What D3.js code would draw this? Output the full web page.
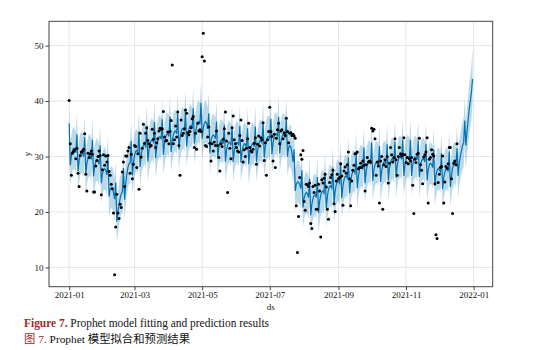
<!DOCTYPE html>
<html>
<head>
<meta charset="utf-8">
<script src="https://cdn.jsdelivr.net/npm/d3@7"></script>
<style>
  body { margin: 0; background: #fff; }
  svg { display: block; }
</style>
</head>
<body>
<svg id="chart" width="548" height="350"></svg>
<script>
// Prophet fit: one value per day from 2021-01-01, one row per week
const startDate = "2021-01-01";

const yhat = [
  36.0, 28.4, 30.2, 31.1, 31.5, 31.3, 30.7,
  34.0, 27.4, 29.3, 30.3, 30.7, 30.6, 30.0,
  33.5, 26.9, 28.8, 29.7, 30.2, 30.1, 29.5,
  33.0, 26.4, 28.3, 29.1, 29.4, 29.2, 28.6,
  32.0, 25.2, 26.9, 27.6, 27.8, 27.5, 26.7,
  30.0, 22.8, 24.1, 24.4, 24.2, 23.5, 22.3,
  25.3, 18.3, 20.0, 21.3, 22.5, 23.3, 23.6,
  27.9, 22.2, 25.0, 26.8, 28.0, 28.7, 28.8,
  32.8, 26.6, 28.9, 30.2, 30.9, 31.1, 30.8,
  34.5, 28.1, 30.3, 31.4, 32.0, 32.2, 31.8,
  35.5, 29.1, 31.2, 32.3, 32.9, 33.0, 32.6,
  36.2, 29.7, 31.8, 32.9, 33.5, 33.6, 33.1,
  36.7, 30.3, 32.3, 33.4, 34.0, 34.1, 33.6,
  37.2, 30.8, 32.8, 33.9, 34.5, 34.6, 34.1,
  37.7, 31.3, 33.3, 34.4, 35.0, 35.1, 34.6,
  38.2, 31.8, 33.8, 34.9, 35.5, 35.6, 35.1,
  38.7, 32.3, 34.3, 35.4, 36.1, 36.3, 35.8,
  39.7, 33.2, 35.1, 36.0, 36.3, 36.0, 35.0,
  37.8, 30.6, 32.8, 33.6, 33.9, 33.7, 33.2,
  36.3, 29.7, 31.6, 32.5, 32.9, 32.8, 32.3,
  35.7, 29.1, 31.1, 32.1, 32.6, 32.5, 32.0,
  35.5, 29.0, 31.0, 32.0, 32.5, 32.5, 32.0,
  35.5, 28.9, 30.9, 31.8, 32.3, 32.2, 31.7,
  35.1, 28.6, 30.6, 31.7, 32.2, 32.3, 31.8,
  35.4, 29.0, 31.0, 32.2, 32.8, 32.9, 32.5,
  36.2, 29.8, 31.8, 32.9, 33.5, 33.6, 33.2,
  36.8, 30.4, 32.4, 33.5, 34.1, 34.1, 33.6,
  37.1, 30.6, 32.6, 33.5, 34.0, 33.9, 33.4,
  36.7, 30.0, 31.6, 32.0, 31.7, 30.7, 29.0,
  31.3, 23.8, 25.0, 25.4, 25.4, 25.0, 24.2,
  27.5, 20.8, 22.5, 23.2, 23.5, 23.3, 22.6,
  26.0, 19.4, 21.4, 22.4, 23.0, 23.1, 22.6,
  26.3, 19.8, 21.9, 23.0, 23.6, 23.8, 23.4,
  27.1, 20.7, 22.8, 24.0, 24.6, 24.7, 24.3,
  28.0, 21.6, 23.7, 24.9, 25.5, 25.6, 25.2,
  28.9, 22.5, 24.6, 25.8, 26.4, 26.5, 26.1,
  29.8, 23.4, 25.5, 26.7, 27.3, 27.4, 27.0,
  30.7, 24.3, 26.4, 27.6, 28.2, 28.3, 27.9,
  31.6, 25.2, 27.3, 28.4, 29.0, 29.1, 28.6,
  32.5, 25.6, 27.6, 28.5, 28.9, 28.9, 28.4,
  31.9, 25.4, 27.4, 28.5, 29.0, 29.1, 28.6,
  32.2, 25.7, 27.8, 28.9, 29.5, 29.6, 29.1,
  32.7, 26.2, 28.3, 29.4, 29.9, 30.0, 29.5,
  33.0, 26.5, 28.5, 29.5, 30.0, 30.0, 29.5,
  33.0, 26.5, 28.5, 29.5, 29.9, 29.9, 29.4,
  32.9, 26.3, 28.3, 29.2, 29.6, 29.5, 29.0,
  32.3, 25.7, 27.6, 28.5, 28.8, 28.6, 28.0,
  31.3, 24.7, 26.6, 27.5, 27.8, 27.6, 27.2,
  30.6, 24.1, 26.2, 27.2, 27.7, 27.8, 27.3,
  30.9, 24.5, 26.6, 27.9, 28.6, 28.9, 28.5,
  31.5, 26.5, 28.8, 30.0, 31.0, 32.0, 32.5,
  36.5, 32.0, 34.5, 36.5, 38.5, 40.0, 41.5,
  44.0
];

const yhatLower = [
  32.2, 24.8, 26.3, 27.4, 27.7, 27.7, 26.8,
  30.2, 23.8, 25.4, 26.6, 26.9, 27.0, 26.1,
  29.7, 23.3, 24.9, 26.0, 26.4, 26.5, 25.6,
  29.2, 22.8, 24.4, 25.4, 25.6, 25.6, 24.7,
  28.2, 21.6, 23.0, 23.9, 24.0, 23.9, 22.8,
  26.2, 19.2, 20.2, 20.7, 20.4, 19.9, 18.4,
  21.5, 14.7, 16.1, 17.6, 18.7, 19.7, 19.7,
  24.1, 18.6, 21.1, 23.1, 24.2, 25.1, 24.9,
  29.0, 23.0, 25.0, 26.5, 27.1, 27.5, 26.9,
  30.7, 24.5, 26.4, 27.7, 28.2, 28.6, 27.9,
  31.7, 25.5, 27.3, 28.6, 29.1, 29.4, 28.7,
  32.4, 26.1, 27.9, 29.2, 29.7, 30.0, 29.2,
  32.9, 26.7, 28.4, 29.7, 30.2, 30.5, 29.7,
  33.4, 27.2, 28.9, 30.2, 30.7, 31.0, 30.2,
  33.9, 27.7, 29.4, 30.7, 31.2, 31.5, 30.7,
  34.4, 28.2, 29.9, 31.2, 31.7, 32.0, 31.2,
  34.9, 28.7, 30.4, 31.7, 32.3, 32.7, 31.9,
  35.9, 29.6, 31.2, 32.3, 32.5, 32.4, 31.1,
  34.0, 27.0, 28.9, 29.9, 30.1, 30.1, 29.3,
  32.5, 26.1, 27.7, 28.8, 29.1, 29.2, 28.4,
  31.9, 25.5, 27.2, 28.4, 28.8, 28.9, 28.1,
  31.7, 25.4, 27.1, 28.3, 28.7, 28.9, 28.1,
  31.7, 25.3, 27.0, 28.1, 28.5, 28.6, 27.8,
  31.3, 25.0, 26.7, 28.0, 28.4, 28.7, 27.9,
  31.6, 25.4, 27.1, 28.5, 29.0, 29.3, 28.6,
  32.4, 26.2, 27.9, 29.2, 29.7, 30.0, 29.3,
  33.0, 26.8, 28.5, 29.8, 30.3, 30.5, 29.7,
  33.3, 27.0, 28.7, 29.8, 30.2, 30.3, 29.5,
  32.9, 26.4, 27.7, 28.3, 27.9, 27.1, 25.1,
  27.5, 20.2, 21.1, 21.7, 21.6, 21.4, 20.3,
  23.7, 17.2, 18.6, 19.5, 19.7, 19.7, 18.7,
  22.2, 15.8, 17.5, 18.7, 19.2, 19.5, 18.7,
  22.5, 16.2, 18.0, 19.3, 19.8, 20.2, 19.5,
  23.3, 17.1, 18.9, 20.3, 20.8, 21.1, 20.4,
  24.2, 18.0, 19.8, 21.2, 21.7, 22.0, 21.3,
  25.1, 18.9, 20.7, 22.1, 22.6, 22.9, 22.2,
  26.0, 19.8, 21.6, 23.0, 23.5, 23.8, 23.1,
  26.9, 20.7, 22.5, 23.9, 24.4, 24.7, 24.0,
  27.8, 21.6, 23.4, 24.7, 25.2, 25.5, 24.7,
  28.7, 22.0, 23.7, 24.8, 25.1, 25.3, 24.5,
  28.1, 21.8, 23.5, 24.8, 25.2, 25.5, 24.7,
  28.4, 22.1, 23.9, 25.2, 25.7, 26.0, 25.2,
  28.9, 22.6, 24.4, 25.7, 26.1, 26.4, 25.6,
  29.2, 22.9, 24.6, 25.8, 26.2, 26.4, 25.6,
  29.2, 22.9, 24.6, 25.8, 26.1, 26.3, 25.5,
  29.1, 22.7, 24.4, 25.5, 25.8, 25.9, 25.1,
  28.5, 22.1, 23.7, 24.8, 25.0, 25.0, 24.1,
  27.5, 21.1, 22.7, 23.8, 24.0, 24.0, 23.3,
  26.8, 20.5, 22.3, 23.5, 23.9, 24.2, 23.4,
  27.1, 20.9, 22.7, 24.2, 24.8, 25.3, 24.6,
  27.6, 22.5, 24.7, 25.8, 26.7, 27.6, 28.0,
  32.3, 27.7, 30.1, 32.0, 33.8, 35.2, 36.6,
  39.6
];

const yhatUpper = [
  39.7, 32.3, 33.8, 34.9, 35.4, 35.0, 34.5,
  37.7, 31.3, 32.9, 34.1, 34.6, 34.3, 33.8,
  37.2, 30.8, 32.4, 33.5, 34.1, 33.8, 33.3,
  36.7, 30.3, 31.9, 32.9, 33.3, 32.9, 32.4,
  35.7, 29.1, 30.5, 31.4, 31.7, 31.2, 30.5,
  33.7, 26.7, 27.7, 28.2, 28.1, 27.2, 26.1,
  29.0, 22.2, 23.6, 25.1, 26.4, 27.0, 27.4,
  31.6, 26.1, 28.6, 30.6, 31.9, 32.4, 32.6,
  36.5, 30.5, 32.5, 34.0, 34.8, 34.8, 34.6,
  38.2, 32.0, 33.9, 35.2, 35.9, 35.9, 35.6,
  39.2, 33.0, 34.8, 36.1, 36.8, 36.7, 36.4,
  39.9, 33.6, 35.4, 36.7, 37.4, 37.3, 36.9,
  40.4, 34.2, 35.9, 37.2, 37.9, 37.8, 37.4,
  40.9, 34.7, 36.4, 37.7, 38.4, 38.3, 37.9,
  41.4, 35.2, 36.9, 38.2, 38.9, 38.8, 38.4,
  41.9, 35.7, 37.4, 38.7, 39.4, 39.3, 38.9,
  42.4, 36.2, 37.9, 39.2, 40.0, 40.0, 39.6,
  43.4, 37.1, 38.7, 39.8, 40.2, 39.7, 38.8,
  41.5, 34.5, 36.4, 37.4, 37.8, 37.4, 37.0,
  40.0, 33.6, 35.2, 36.3, 36.8, 36.5, 36.1,
  39.4, 33.0, 34.7, 35.9, 36.5, 36.2, 35.8,
  39.2, 32.9, 34.6, 35.8, 36.4, 36.2, 35.8,
  39.2, 32.8, 34.5, 35.6, 36.2, 35.9, 35.5,
  38.8, 32.5, 34.2, 35.5, 36.1, 36.0, 35.6,
  39.1, 32.9, 34.6, 36.0, 36.7, 36.6, 36.3,
  39.9, 33.7, 35.4, 36.7, 37.4, 37.3, 37.0,
  40.5, 34.3, 36.0, 37.3, 38.0, 37.8, 37.4,
  40.8, 34.5, 36.2, 37.3, 37.9, 37.6, 37.2,
  40.4, 33.9, 35.2, 35.8, 35.6, 34.4, 32.8,
  35.0, 27.7, 28.6, 29.2, 29.3, 28.7, 28.0,
  31.2, 24.7, 26.1, 27.0, 27.4, 27.0, 26.4,
  29.7, 23.3, 25.0, 26.2, 26.9, 26.8, 26.4,
  30.0, 23.7, 25.5, 26.8, 27.5, 27.5, 27.2,
  30.8, 24.6, 26.4, 27.8, 28.5, 28.4, 28.1,
  31.7, 25.5, 27.3, 28.7, 29.4, 29.3, 29.0,
  32.6, 26.4, 28.2, 29.6, 30.3, 30.2, 29.9,
  33.5, 27.3, 29.1, 30.5, 31.2, 31.1, 30.8,
  34.4, 28.2, 30.0, 31.4, 32.1, 32.0, 31.7,
  35.3, 29.1, 30.9, 32.2, 32.9, 32.8, 32.4,
  36.2, 29.5, 31.2, 32.3, 32.8, 32.6, 32.2,
  35.6, 29.3, 31.0, 32.3, 32.9, 32.8, 32.4,
  35.9, 29.6, 31.4, 32.7, 33.4, 33.3, 32.9,
  36.4, 30.1, 31.9, 33.2, 33.8, 33.7, 33.3,
  36.7, 30.4, 32.1, 33.3, 33.9, 33.7, 33.3,
  36.7, 30.4, 32.1, 33.3, 33.8, 33.6, 33.2,
  36.6, 30.2, 31.9, 33.0, 33.5, 33.2, 32.8,
  36.0, 29.6, 31.2, 32.3, 32.7, 32.3, 31.8,
  35.0, 28.6, 30.2, 31.3, 31.7, 31.3, 31.0,
  34.3, 28.0, 29.8, 31.0, 31.6, 31.5, 31.1,
  34.6, 28.4, 30.2, 31.7, 32.5, 32.6, 32.3,
  35.4, 30.6, 32.8, 34.2, 35.3, 36.4, 37.0,
  40.6, 36.2, 38.8, 40.9, 43.0, 44.7, 46.4,
  49.5
];

// observed y, daily from 2021-01-01 to 2021-12-17
const observed = [
  40.1, 32.3, 26.6, 30.6, 30.9, 31.2, 29.6,
  31.5, 27.0, 24.6, 30.2, 30.8, 31.0, 31.3,
  34.1, 26.8, 23.8, 30.6, 29.8, 30.5, 31.0,
  30.4, 23.6, 23.6, 28.3, 29.3, 30.0, 31.0,
  30.2, 23.1, 27.6, 30.3, 28.4, 30.1, 29.0,
  30.2, 27.3, 26.6, 25.0, 24.2, 19.8, 8.7,
  17.3, 23.2, 19.8, 18.8, 21.4, 20.8, 27.2,
  29.0, 24.6, 30.1, 30.1, 31.0, 31.6, 27.0,
  30.4, 26.0, 28.6, 32.0, 31.8, 28.0, 30.5,
  24.1, 34.2, 29.9, 31.5, 35.8, 32.4, 34.2,
  35.2, 32.9, 32.3, 31.8, 32.0, 34.9, 33.1,
  34.2, 31.6, 32.5, 33.2, 34.6, 35.1, 34.9,
  35.0, 38.1, 33.5, 32.8, 32.9, 34.4, 32.3,
  34.5, 36.5, 46.5, 32.3, 33.0, 35.5, 33.5,
  38.0, 32.0, 26.6, 36.6, 33.8, 34.2, 35.0,
  38.4, 37.8, 34.3, 33.9, 34.5, 35.2, 36.8,
  37.2, 31.6, 34.2, 31.3, 36.0, 34.6, 34.8,
  34.5, 48.0, 52.2, 47.2, 32.0, 31.8, 33.5,
  35.3, 32.4, 29.2, 32.3, 31.0, 32.6, 32.0,
  34.6, 32.0, 29.8, 27.4, 32.3, 31.8, 33.1,
  35.0, 38.0, 32.8, 23.5, 34.2, 31.5, 29.6,
  35.2, 37.3, 33.0, 32.3, 31.6, 31.0, 30.8,
  33.8, 36.6, 32.9, 29.0, 31.2, 30.0, 31.5,
  33.2, 36.0, 31.6, 31.0, 30.8, 31.3, 32.4,
  33.4, 28.6, 32.2, 33.7, 31.9, 33.4, 33.0,
  36.1, 29.3, 32.5, 26.6, 33.0, 34.5, 38.9,
  34.5, 33.6, 29.2, 34.0, 28.0, 33.3, 34.8,
  36.0, 32.3, 34.6, 34.8, 33.2, 34.3, 33.8,
  36.9, 34.5, 32.5, 34.2, 34.3, 33.8, 34.0,
  33.7, 33.3, 21.1, 12.7, 19.2, 26.2, 30.3,
  29.5, 31.1, 21.9, 20.3, 25.0, 24.9, 24.6,
  25.2, 17.9, 17.0, 24.6, 23.5, 24.8, 20.5,
  20.5, 25.0, 23.8, 15.5, 25.8, 25.2, 26.1,
  26.8, 24.5, 20.5, 18.7, 25.3, 26.2, 26.7,
  27.5, 21.5, 20.1, 25.6, 26.8, 26.0, 26.2,
  28.7, 26.5, 21.2, 27.4, 28.1, 27.0, 28.5,
  30.8, 26.0, 21.1, 25.6, 27.5, 28.4, 30.5,
  30.6, 30.8, 27.8, 28.0, 28.8, 28.0, 29.2,
  28.4, 23.8, 28.5, 29.8, 29.0, 29.2, 29.0,
  35.1, 34.6, 34.9, 33.2, 26.6, 29.0, 28.3,
  21.6, 29.2, 30.0, 20.5, 28.5, 29.4, 28.2,
  30.0, 25.2, 28.8, 31.6, 30.3, 29.0, 29.8,
  33.2, 29.4, 26.6, 30.0, 31.6, 30.5, 30.1,
  30.4, 33.4, 30.3, 28.9, 29.8, 28.7, 29.6,
  29.2, 29.8, 24.8, 19.7, 29.5, 28.9, 30.4,
  30.6, 33.3, 28.5, 27.5, 25.1, 29.9, 30.3,
  30.8, 33.4, 21.6, 29.5, 29.8, 31.2, 30.4,
  30.1, 25.1, 15.9, 15.2, 25.3, 26.8, 28.0,
  28.2, 30.1, 21.6, 25.4, 28.2, 27.9, 28.7,
  31.6, 31.6, 26.0, 19.7, 28.8, 29.2, 28.5,
  32.3
];

const width = 548, height = 350;
const plot = {left: 49, right: 492.7, top: 21.3, bottom: 286.7};
const blue = "#0072B2";
const serif = "'Liberation Serif', 'DejaVu Serif', serif";

const svg = d3.select("#chart");

const t0 = d3.utcParse("%Y-%m-%d")(startDate);
const dates = yhat.map((_, i) => d3.utcDay.offset(t0, i));

// matplotlib-style 5% margins
const pad = (dates[dates.length - 1] - dates[0]) * 0.05;
const x = d3.scaleUtc()
    .domain([new Date(+dates[0] - pad), new Date(+dates[dates.length - 1] + pad)])
    .range([plot.left, plot.right]);

const lo = Math.min(d3.min(observed), d3.min(yhatLower));
const hi = Math.max(d3.max(observed), d3.max(yhatUpper));
const y = d3.scaleLinear()
    .domain([lo - (hi - lo) * 0.05, hi + (hi - lo) * 0.05])
    .range([plot.bottom, plot.top]);

const xTicks = d3.utcMonth.every(2).range(x.domain()[0], x.domain()[1]);
const yTicks = [10, 20, 30, 40, 50];

// grid
svg.append("g").selectAll("line")
  .data(xTicks)
  .join("line")
    .attr("x1", d => x(d)).attr("x2", d => x(d))
    .attr("y1", plot.top).attr("y2", plot.bottom)
    .attr("stroke", "#e6e6e6").attr("stroke-width", 1);
svg.append("g").selectAll("line")
  .data(yTicks)
  .join("line")
    .attr("x1", plot.left).attr("x2", plot.right)
    .attr("y1", d => y(d)).attr("y2", d => y(d))
    .attr("stroke", "#e6e6e6").attr("stroke-width", 1);

// uncertainty band
const area = d3.area()
    .x((d, i) => x(dates[i]))
    .y0((d, i) => y(yhatLower[i]))
    .y1((d, i) => y(yhatUpper[i]));
svg.append("path")
    .datum(yhat)
    .attr("d", area)
    .attr("fill", blue)
    .attr("fill-opacity", 0.27);

// forecast line
const line = d3.line()
    .x((d, i) => x(dates[i]))
    .y(d => y(d));
svg.append("path")
    .datum(yhat)
    .attr("d", line)
    .attr("fill", "none")
    .attr("stroke", blue)
    .attr("stroke-width", 1.2);

// observed points
svg.append("g").selectAll("circle")
  .data(observed)
  .join("circle")
    .attr("cx", (d, i) => x(dates[i]))
    .attr("cy", d => y(d))
    .attr("r", 1.5)
    .attr("fill", "#000");

// frame
svg.append("rect")
    .attr("x", plot.left).attr("y", plot.top)
    .attr("width", plot.right - plot.left)
    .attr("height", plot.bottom - plot.top)
    .attr("fill", "none")
    .attr("stroke", "#444")
    .attr("stroke-width", 1);

// axes
const xAxis = svg.append("g")
    .attr("transform", `translate(0,${plot.bottom})`)
    .call(d3.axisBottom(x).tickValues(xTicks).tickFormat(d3.utcFormat("%Y-%m")).tickSize(3.5).tickPadding(1.5));
const yAxis = svg.append("g")
    .attr("transform", `translate(${plot.left},0)`)
    .call(d3.axisLeft(y).tickValues(yTicks).tickSize(3.5).tickPadding(2));

[xAxis, yAxis].forEach(g => {
  g.select(".domain").remove();
  g.selectAll(".tick line").attr("stroke", "#444");
  g.selectAll(".tick text")
    .attr("fill", "#111")
    .attr("font-family", serif)
    .attr("font-size", "9px");
});

svg.append("text")
    .attr("x", (plot.left + plot.right) / 2)
    .attr("y", 309.5)
    .attr("text-anchor", "middle")
    .attr("font-family", serif)
    .attr("font-size", "9px")
    .attr("fill", "#111")
    .text("ds");

svg.append("text")
    .attr("transform", `translate(30,${(plot.top + plot.bottom) / 2}) rotate(-90)`)
    .attr("text-anchor", "middle")
    .attr("font-family", serif)
    .attr("font-size", "9px")
    .attr("fill", "#111")
    .text("y");

// caption
const cap1 = svg.append("text")
    .attr("x", 24).attr("y", 327)
    .attr("font-family", serif)
    .attr("font-size", "12px");
cap1.append("tspan").attr("fill", "#9e2a2b").attr("font-weight", "bold").text("Figure 7.");
cap1.append("tspan").attr("fill", "#111").text(" Prophet model fitting and prediction results");

const cap2 = svg.append("text")
    .attr("x", 24).attr("y", 343)
    .attr("font-family", serif)
    .attr("font-size", "12px");
cap2.append("tspan").attr("fill", "#9e2a2b").attr("font-family", "'Noto Sans CJK SC', sans-serif").text("图");
cap2.append("tspan").attr("fill", "#9e2a2b").text(" 7. ");
cap2.append("tspan").attr("fill", "#111").text("Prophet ");
cap2.append("tspan").attr("fill", "#111").attr("font-family", "'Noto Sans CJK SC', sans-serif").text("模型拟合和预测结果");

// fit caption widths to the reference line lengths
[[cap1, 245], [cap2, 166]].forEach(([t, w]) => {
  const len = t.node().getComputedTextLength();
  t.attr("font-size", (12 * w / len).toFixed(2) + "px");
});
</script>
</body>
</html>
